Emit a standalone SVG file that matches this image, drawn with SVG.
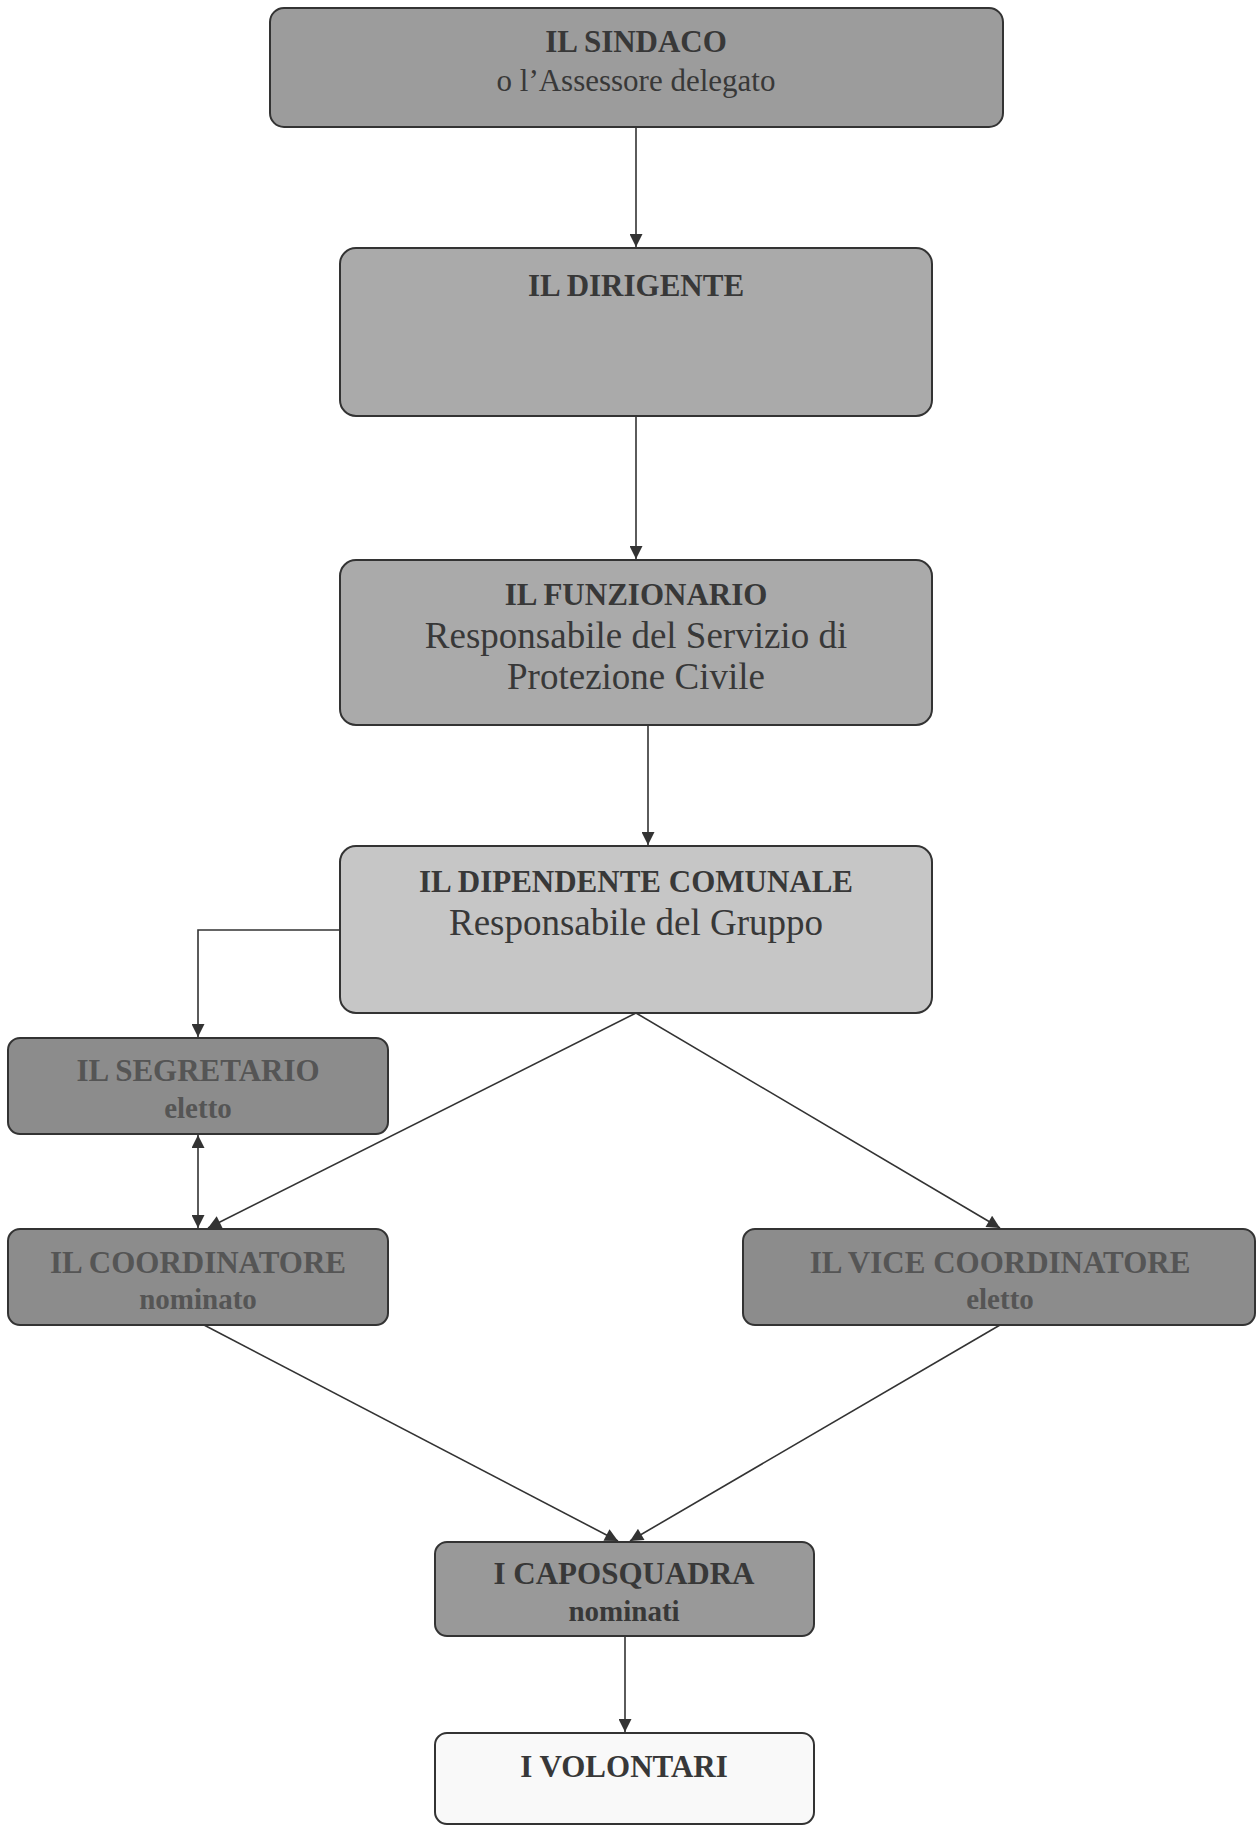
<svg xmlns="http://www.w3.org/2000/svg" width="1256" height="1826" viewBox="0 0 1256 1826">
<style>
.box{stroke:#333;stroke-width:2}
.t{font-family:"Liberation Serif","Times New Roman",serif;text-anchor:middle}
.b{font-weight:bold;font-size:31px}
.r{font-size:31px}
.r2{font-size:37px}
.s{font-weight:bold;font-size:29px}
.dk{fill:#383838}
.md{fill:#555555}
.conn{fill:none;stroke:#333;stroke-width:1.6}
</style>
<defs>
<marker id="ah" viewBox="0 0 10 10" refX="10" refY="5" markerWidth="15" markerHeight="13" markerUnits="userSpaceOnUse" orient="auto-start-reverse">
<path d="M0,0 L10,5 L0,10 z" fill="#333"/>
</marker>
</defs>
<rect width="1256" height="1826" fill="#fff"/>
<g id="connectors">
<path class="conn" d="M636,127 V247" marker-end="url(#ah)"/>
<path class="conn" d="M636,416 V559" marker-end="url(#ah)"/>
<path class="conn" d="M648,725 V845" marker-end="url(#ah)"/>
<path class="conn" d="M340,930 H198 V1037" marker-end="url(#ah)"/>
<path class="conn" d="M198,1135 V1228" marker-start="url(#ah)" marker-end="url(#ah)"/>
<path class="conn" d="M636,1013 L208,1228" marker-end="url(#ah)"/>
<path class="conn" d="M636,1013 L1000,1228" marker-end="url(#ah)"/>
<path class="conn" d="M204,1325 L618,1541" marker-end="url(#ah)"/>
<path class="conn" d="M1000,1325 L630,1541" marker-end="url(#ah)"/>
<path class="conn" d="M625,1636 V1732" marker-end="url(#ah)"/>
</g>
<g id="sindaco">
<rect class="box" x="270" y="8" width="733" height="119" rx="14" fill="#9c9c9c"/>
<text class="t b dk" x="636" y="52">IL SINDACO</text>
<text class="t r dk" x="636" y="91">o l’Assessore delegato</text>
</g>
<g id="dirigente">
<rect class="box" x="340" y="248" width="592" height="168" rx="16" fill="#aaaaaa"/>
<text class="t b dk" x="636" y="296">IL DIRIGENTE</text>
</g>
<g id="funzionario">
<rect class="box" x="340" y="560" width="592" height="165" rx="16" fill="#aaaaaa"/>
<text class="t b dk" x="636" y="605">IL FUNZIONARIO</text>
<text class="t r2 dk" x="636" y="648">Responsabile del Servizio di</text>
<text class="t r2 dk" x="636" y="689">Protezione Civile</text>
</g>
<g id="dipendente">
<rect class="box" x="340" y="846" width="592" height="167" rx="16" fill="#c6c6c6"/>
<text class="t b dk" x="636" y="892">IL DIPENDENTE COMUNALE</text>
<text class="t r2 dk" x="636" y="935">Responsabile del Gruppo</text>
</g>
<g id="segretario">
<rect class="box" x="8" y="1038" width="380" height="96" rx="12" fill="#8c8c8c"/>
<text class="t b md" x="198" y="1081">IL SEGRETARIO</text>
<text class="t s md" x="198" y="1118">eletto</text>
</g>
<g id="coordinatore">
<rect class="box" x="8" y="1229" width="380" height="96" rx="12" fill="#8c8c8c"/>
<text class="t b md" x="198" y="1273">IL COORDINATORE</text>
<text class="t s md" x="198" y="1309">nominato</text>
</g>
<g id="vicecoordinatore">
<rect class="box" x="743" y="1229" width="512" height="96" rx="12" fill="#8c8c8c"/>
<text class="t b md" x="1000" y="1273">IL VICE COORDINATORE</text>
<text class="t s md" x="1000" y="1309">eletto</text>
</g>
<g id="caposquadra">
<rect class="box" x="435" y="1542" width="379" height="94" rx="12" fill="#999999"/>
<text class="t b dk" x="624" y="1584">I CAPOSQUADRA</text>
<text class="t s dk" x="624" y="1621">nominati</text>
</g>
<g id="volontari">
<rect class="box" x="435" y="1733" width="379" height="91" rx="12" fill="#f9f9f9"/>
<text class="t b dk" x="624" y="1777">I VOLONTARI</text>
</g>
</svg>
